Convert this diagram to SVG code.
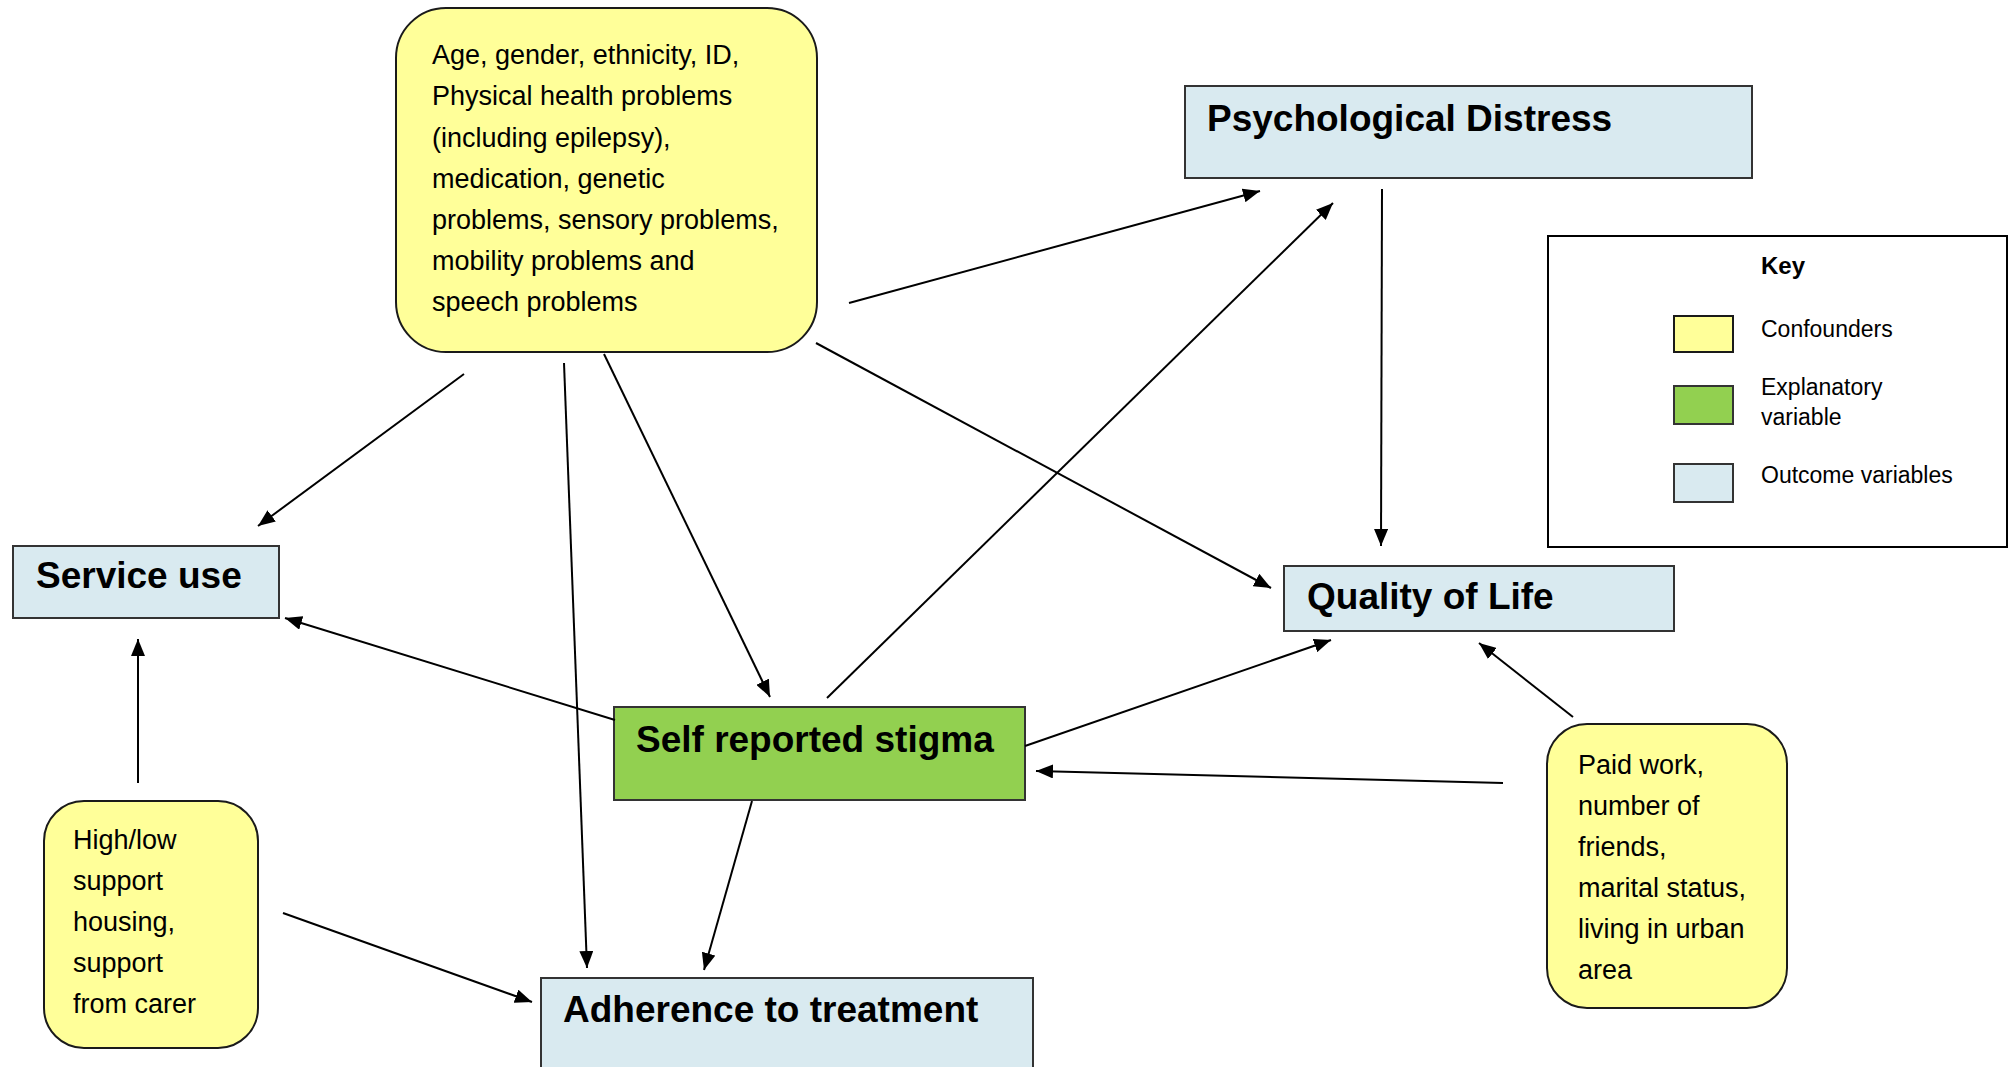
<svg xmlns="http://www.w3.org/2000/svg" width="2016" height="1067" viewBox="0 0 2016 1067">
<style>
.conf{fill:#FFFF99;stroke:#1a1a1a;stroke-width:2}
.expl{fill:#92D050;stroke:#333;stroke-width:2}
.out{fill:#D9EAF0;stroke:#333;stroke-width:2}
.t{font-family:"Liberation Sans",Arial,sans-serif;font-size:27px;fill:#000}
.b{font-family:"Liberation Sans",Arial,sans-serif;font-size:37px;font-weight:bold;fill:#000}
.k{font-family:"Liberation Sans",Arial,sans-serif;font-size:23px;fill:#000}
.kb{font-family:"Liberation Sans",Arial,sans-serif;font-size:24px;font-weight:bold;fill:#000}
.c line{stroke:#000;stroke-width:2;marker-end:url(#ah)}
</style>
<defs>
<marker id="ah" markerUnits="userSpaceOnUse" markerWidth="18" markerHeight="14" refX="17" refY="7" orient="auto">
<path d="M0,0 L17,7 L0,14 Z" fill="#000"/>
</marker>
</defs>
<rect width="2016" height="1067" fill="#fff"/>
<g id="confounders-top">
<rect class="conf" x="396" y="8" width="421" height="344" rx="50"/>
<text class="t" x="432"><tspan x="432" y="64">Age, gender, ethnicity, ID,</tspan><tspan x="432" y="105">Physical health problems</tspan><tspan x="432" y="147">(including epilepsy),</tspan><tspan x="432" y="188">medication, genetic</tspan><tspan x="432" y="229">problems, sensory problems,</tspan><tspan x="432" y="270">mobility problems and</tspan><tspan x="432" y="311">speech problems</tspan></text>
</g>
<g id="psychological-distress">
<rect class="out" x="1185" y="86" width="567" height="92"/>
<text class="b" x="1207" y="131">Psychological Distress</text>
</g>
<g id="key">
<rect x="1548" y="236" width="459" height="311" fill="#fff" stroke="#000" stroke-width="2"/>
<text class="kb" x="1761" y="274">Key</text>
<rect class="conf" x="1674" y="316" width="59" height="36"/>
<text class="k" x="1761" y="337">Confounders</text>
<rect class="expl" x="1674" y="386" width="59" height="38"/>
<text class="k" x="1761" y="395">Explanatory</text>
<text class="k" x="1761" y="425">variable</text>
<rect class="out" x="1674" y="464" width="59" height="38"/>
<text class="k" x="1761" y="483">Outcome variables</text>
</g>
<g id="quality-of-life">
<rect class="out" x="1284" y="566" width="390" height="65"/>
<text class="b" x="1307" y="609">Quality of Life</text>
</g>
<g id="service-use">
<rect class="out" x="13" y="546" width="266" height="72"/>
<text class="b" x="36" y="588">Service use</text>
</g>
<g id="self-reported-stigma">
<rect class="expl" x="614" y="707" width="411" height="93"/>
<text class="b" x="636" y="752">Self reported stigma</text>
</g>
<g id="adherence">
<rect class="out" x="541" y="978" width="492" height="92"/>
<text class="b" x="563" y="1022">Adherence to treatment</text>
</g>
<g id="confounders-housing">
<rect class="conf" x="44" y="801" width="214" height="247" rx="40"/>
<text class="t"><tspan x="73" y="849">High/low</tspan><tspan x="73" y="890">support</tspan><tspan x="73" y="931">housing,</tspan><tspan x="73" y="972">support</tspan><tspan x="73" y="1013">from carer</tspan></text>
</g>
<g id="confounders-social">
<rect class="conf" x="1547" y="724" width="240" height="284" rx="40"/>
<text class="t"><tspan x="1578" y="774">Paid work,</tspan><tspan x="1578" y="815">number of</tspan><tspan x="1578" y="856">friends,</tspan><tspan x="1578" y="897">marital status,</tspan><tspan x="1578" y="938">living in urban</tspan><tspan x="1578" y="979">area</tspan></text>
</g>
<g id="connectors" class="c">
<line x1="849" y1="303" x2="1260" y2="191"/>
<line x1="827" y1="698" x2="1333" y2="203"/>
<line x1="1382" y1="189" x2="1381" y2="546"/>
<line x1="816" y1="343" x2="1271" y2="588"/>
<line x1="464" y1="374" x2="258" y2="526"/>
<line x1="564" y1="363" x2="587" y2="968"/>
<line x1="604" y1="354" x2="770" y2="697"/>
<line x1="615" y1="720" x2="285" y2="618"/>
<line x1="1025" y1="746" x2="1331" y2="640"/>
<line x1="1573" y1="717" x2="1479" y2="643"/>
<line x1="1503" y1="783" x2="1036" y2="771"/>
<line x1="752" y1="801" x2="704" y2="970"/>
<line x1="138" y1="783" x2="138" y2="639"/>
<line x1="283" y1="913" x2="532" y2="1002"/>
</g>
</svg>
